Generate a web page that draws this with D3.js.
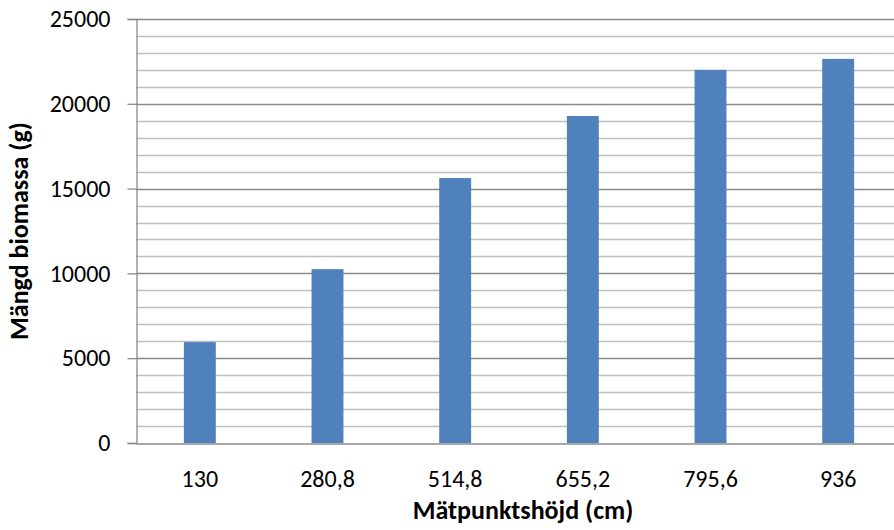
<!DOCTYPE html>
<html>
<head>
<meta charset="utf-8">
<script src="https://cdn.jsdelivr.net/npm/d3@7"></script>
<style>
  html, body { margin: 0; padding: 0; background: #ffffff; }
  svg { display: block; }
  text { font-family: Calibri, Carlito, Lato, "Open Sans", sans-serif; fill: #000; }
</style>
</head>
<body>
<svg id="chart" width="894" height="530"></svg>
<script>
// Biomass per measuring height
const categories = ["130", "280,8", "514,8", "655,2", "795,6", "936"];
const biomass = [5950, 10250, 15620, 19280, 22000, 22650];
const majorTicks = [0, 5000, 10000, 15000, 20000, 25000];
const minorStep = 1000;

const W = 894, H = 530;
const margin = { left: 136, right: -8, top: 19, bottom: 87 };
const x0 = margin.left, x1 = W - margin.right;
const y0 = H - margin.bottom, y1 = margin.top;
const FONT = "Calibri, Carlito, Lato, 'Open Sans', sans-serif";

const svg = d3.select("#chart");

const x = d3.scaleBand().domain(categories).range([x0, x1]).padding(0);
const y = d3.scaleLinear().domain([0, 25000]).range([y0, y1]);

// minor gridlines
const minor = d3.range(0, 25001, minorStep).filter(v => v % 5000 !== 0);
svg.append("g").selectAll("line").data(minor).join("line")
  .attr("x1", x0).attr("x2", x1)
  .attr("y1", d => Math.round(y(d)) + 0.5).attr("y2", d => Math.round(y(d)) + 0.5)
  .attr("stroke", "#bfbfbf").attr("stroke-width", 1.3);

// major gridlines
svg.append("g").selectAll("line").data(majorTicks.filter(v => v > 0)).join("line")
  .attr("x1", x0).attr("x2", x1)
  .attr("y1", d => Math.round(y(d)) + 0.5).attr("y2", d => Math.round(y(d)) + 0.5)
  .attr("stroke", "#8a8a8a").attr("stroke-width", 1.3);

// bars
const barW = x.bandwidth() * 0.25;
svg.append("g").selectAll("rect").data(biomass).join("rect")
  .attr("x", (d, i) => x(categories[i]) + (x.bandwidth() - barW) / 2)
  .attr("width", barW)
  .attr("y", d => y(d))
  .attr("height", d => y(0) - y(d))
  .attr("fill", "#4f81bd");

// y axis
const yAxis = d3.axisLeft(y).tickValues(majorTicks).tickSize(9).tickPadding(17)
  .tickFormat(d3.format("d"));
const gy = svg.append("g").attr("transform", `translate(${x0 + 0.5},0)`).call(yAxis);
gy.select(".domain").attr("stroke", "#8a8a8a").attr("stroke-width", 1.3);
gy.selectAll(".tick line").attr("stroke", "#8a8a8a").attr("stroke-width", 1.3);
gy.selectAll(".tick text").style("font-size", "24px").attr("fill", "#000")
  .style("font-family", FONT);

// x axis
const xAxis = d3.axisBottom(x).tickSize(0).tickPadding(26);
const gx = svg.append("g").attr("transform", `translate(0,${Math.round(y0) + 0.5})`).call(xAxis);
gx.select(".domain").attr("stroke", "#8a8a8a").attr("stroke-width", 1.3);
gx.selectAll(".tick text").style("font-size", "24px").attr("fill", "#000")
  .style("font-family", FONT);

// axis titles
svg.append("text")
  .attr("x", 523).attr("y", 519)
  .attr("text-anchor", "middle")
  .style("font-size", "26px").style("font-weight", "bold")
  .text("Mätpunktshöjd (cm)");

svg.append("text")
  .attr("transform", `translate(28,${(y0 + y1) / 2}) rotate(-90)`)
  .attr("text-anchor", "middle")
  .style("font-size", "26px").style("font-weight", "bold")
  .text("Mängd biomassa (g)");
</script>
</body>
</html>
